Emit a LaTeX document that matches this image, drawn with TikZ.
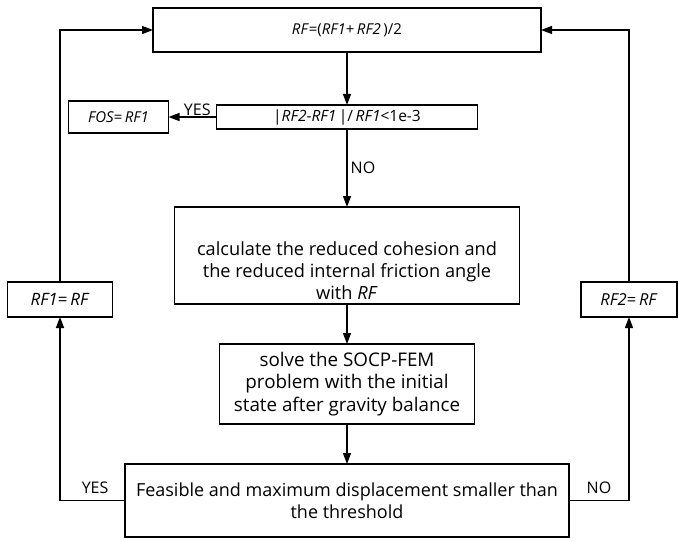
\documentclass[tikz,border=0pt]{standalone}
\usepackage{fontspec}
\setmainfont{Open Sans}
\usetikzlibrary{%
	positioning,
	arrows.meta
}

\begin{document}
\begin{tikzpicture}[x=1pt,y=-1pt,
		Step/.style={draw,line width=1.4pt,shape=rectangle,inner sep=0pt,outer sep=0pt,align=center,font=\fontsize{18}{22}\selectfont},
		formula/.style={font=\fontsize{15}{18}\selectfont},
		flow/.style={line width=1.4pt,-{Triangle[length=11pt,width=8pt]}},
		answer/.style={inner sep=1pt,font=\fontsize{16}{18}\selectfont}
	]
	\useasboundingbox (0,0) rectangle (679,540);
	
	%main column
	\node(RF) [Step, formula, minimum width=388pt, minimum height=44pt] at (347,30) {\textit{RF}=(\textit{RF1}+\,\textit{RF2}\,)/2};
	\node(check) [Step, formula, font=\fontsize{15.5}{18}\selectfont, minimum width=261pt, minimum height=24pt, below=53pt of RF] {|\textit{RF2}-\textit{RF1}\,|/\,\textit{RF1}<1e-3};
	\node(FOS) [Step, formula, minimum width=100pt, minimum height=32pt, left=48pt of check] {\textit{FOS}=\,\textit{RF1}};
	\node(calc) [Step, font=\fontsize{18.2}{22}\selectfont, minimum width=345pt, minimum height=97pt, below=78pt of check] {\raisebox{-22pt}[0pt][0pt]{\begin{tabular}{@{}c@{}}calculate the reduced cohesion and\\the reduced internal friction angle\\with \textit{RF}\end{tabular}}};
	\node(solve) [Step, font=\fontsize{18.8}{22.5}\selectfont, minimum width=255pt, minimum height=80pt, below=40pt of calc] {solve the SOCP-FEM\\problem with the initial\\state after gravity balance};
	\node(feas) [Step, minimum width=444pt, minimum height=73pt, below=40pt of solve] {Feasible and maximum displacement smaller than\\the threshold};
	
	%side boxes
	\node(RF1) [Step, formula, font=\fontsize{17}{18}\selectfont, minimum width=105pt, minimum height=35pt] at (60,299.5) {\textit{RF1}=\,\textit{RF}};
	\node(RF2) [Step, formula, font=\fontsize{16.5}{18}\selectfont, minimum width=96pt, minimum height=35pt] at (629,299.5) {\textit{RF2}=\,\textit{RF}};
	
	\draw [flow] (RF) -- (check);
	\draw [flow] (check) -- node [answer, above, pos=.4] {YES} (FOS);
	\draw [flow] (check) -- node [answer, right=2pt, pos=.5] {NO} (calc);
	\draw [flow] (calc) -- (solve);
	\draw [flow] (solve) -- (feas);
	
	\draw [flow] (feas.west) -| node [answer, above=5pt, pos=.23] {YES} (RF1);
	\draw [flow] (RF1) |- (RF.west);
	\draw [flow] (feas.east) -| node [answer, above=5pt, pos=.25] {NO} (RF2);
	\draw [flow] (RF2) |- (RF.east);
	
\end{tikzpicture}
\end{document}
